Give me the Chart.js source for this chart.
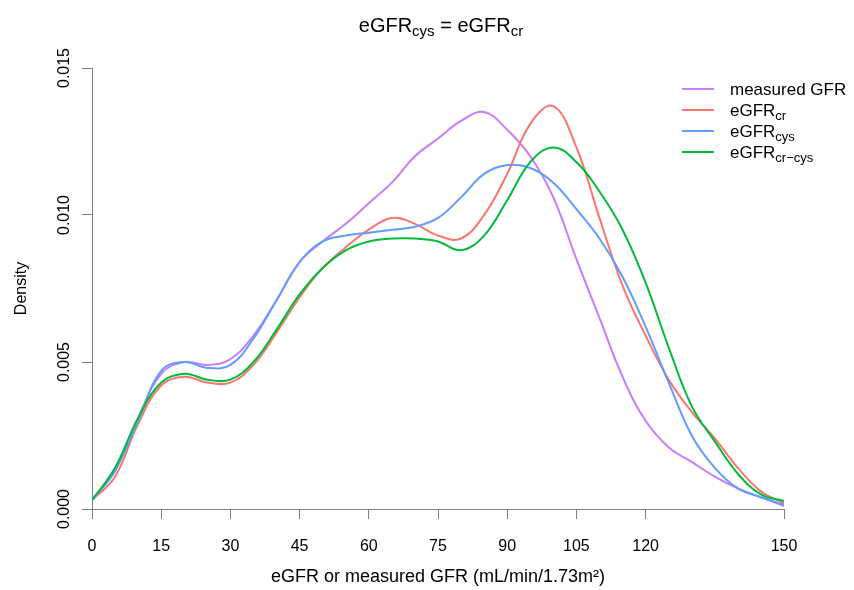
<!DOCTYPE html>
<html>
<head>
<meta charset="utf-8">
<script src="https://cdn.jsdelivr.net/npm/chart.js@4.4.1/dist/chart.umd.min.js"></script>
<style>
  html, body { margin: 0; padding: 0; background: #fff; }
  #wrap { width: 854px; height: 590px; }
</style>
</head>
<body>
<div id="wrap"><canvas id="DensityChart" width="854" height="590"></canvas></div>
<script>
// GFR grid (mL/min/1.73m2) and density values
const gfrValues = [0, 5, 10, 15, 20, 25, 30, 35, 40, 45, 50, 55, 60, 65, 70, 75,
                   80, 85, 90, 95, 100, 105, 110, 115, 120, 125, 130, 135, 140, 145, 150];
const measuredGFR = [0.0003, 0.0013, 0.0031, 0.0046, 0.0050, 0.0049, 0.0051, 0.0059, 0.0071, 0.0084, 0.0091,
                     0.0097, 0.0104, 0.0111, 0.0120, 0.0126, 0.0132, 0.0135, 0.0129, 0.0120, 0.0106,
                     0.0085, 0.0065, 0.0045, 0.0030, 0.0021, 0.0016, 0.0011, 0.0007, 0.0004, 0.0001];
const eGFRcr = [0.0003, 0.0011, 0.0029, 0.0042, 0.0045, 0.0043, 0.0043, 0.0049, 0.0060, 0.0072, 0.0082,
                0.0089, 0.0095, 0.0099, 0.0097, 0.0093, 0.0092, 0.0100, 0.0114, 0.0131, 0.0137,
                0.0123, 0.0099, 0.0076, 0.0059, 0.0044, 0.0033, 0.0024, 0.0014, 0.0006, 0.0002];
const eGFRcys = [0.0003, 0.0013, 0.0030, 0.0047, 0.0050, 0.0048, 0.0049, 0.0058, 0.0071, 0.0084, 0.0091,
                 0.0093, 0.0094, 0.0095, 0.0096, 0.0099, 0.0106, 0.0114, 0.0117, 0.0116, 0.0111,
                 0.0102, 0.0092, 0.0079, 0.0062, 0.0043, 0.0025, 0.0014, 0.0007, 0.0004, 0.00015];
const eGFRcrcys = [0.0003, 0.0014, 0.0031, 0.0043, 0.0046, 0.0044, 0.0044, 0.0050, 0.0061, 0.0073, 0.0082,
                   0.0088, 0.0091, 0.0092, 0.0092, 0.0091, 0.0088, 0.0093, 0.0105, 0.0118, 0.0123,
                   0.0118, 0.0108, 0.0095, 0.0077, 0.0055, 0.0035, 0.0023, 0.0012, 0.0005, 0.00027];

const xTicks = [0, 15, 30, 45, 60, 75, 90, 105, 120, 150];
const yTicks = [0, 0.005, 0.010, 0.015];
const yTickLabels = ['0.000', '0.005', '0.010', '0.015'];

const FONT = '"Liberation Sans", Arial, sans-serif';
const AXIS_GREY = '#7f7f7f';

const seriesInfo = [
    { name: 'measured GFR', sub: '', color: '#C77CFF', values: measuredGFR, order: 3 },
    { name: 'eGFR', sub: 'cr', color: '#F8766D', values: eGFRcr, order: 2 },
    { name: 'eGFR', sub: 'cys', color: '#619CFF', values: eGFRcys, order: 1 },
    { name: 'eGFR', sub: 'cr\u2212cys', color: '#00BA38', values: eGFRcrcys, order: 0 }
];

// draw text pieces, some of them as subscripts
function drawPieces(ctx, pieces, x, y, size, subSize, subDrop) {
    let cx = x;
    pieces.forEach(p => {
        ctx.font = (p[1] ? subSize : size) + 'px ' + FONT;
        ctx.fillText(p[0], cx, p[1] ? y + subDrop : y);
        cx += ctx.measureText(p[0]).width;
    });
}

function piecesWidth(ctx, pieces, size, subSize) {
    let w = 0;
    pieces.forEach(p => {
        ctx.font = (p[1] ? subSize : size) + 'px ' + FONT;
        w += ctx.measureText(p[0]).width;
    });
    return w;
}

const decorPlugin = {
    id: 'decor',
    afterDraw(chart) {
        const ctx = chart.ctx;
        const yScale = chart.scales.y;
        ctx.save();
        ctx.fillStyle = '#000';
        ctx.textBaseline = 'alphabetic';
        ctx.textAlign = 'left';

        // title
        const titlePieces = [['eGFR', false], ['cys', true], [' = eGFR', false], ['cr', true]];
        const tw = piecesWidth(ctx, titlePieces, 20, 15);
        drawPieces(ctx, titlePieces, 441 - tw / 2, 32, 20, 15, 4);

        // y tick labels, rotated like base R
        ctx.font = '16px ' + FONT;
        ctx.textAlign = 'center';
        ctx.textBaseline = 'middle';
        yTicks.forEach((v, i) => {
            ctx.save();
            ctx.translate(65, yScale.getPixelForValue(v));
            ctx.rotate(-Math.PI / 2);
            ctx.fillText(yTickLabels[i], 0, 0);
            ctx.restore();
        });

        // y axis title
        ctx.save();
        ctx.translate(22, (chart.chartArea.top + chart.chartArea.bottom) / 2);
        ctx.rotate(-Math.PI / 2);
        ctx.fillText('Density', 0, 0);
        ctx.restore();

        // legend
        ctx.textAlign = 'left';
        ctx.textBaseline = 'alphabetic';
        seriesInfo.forEach((s, i) => {
            const ry = 89 + i * 21;
            ctx.strokeStyle = s.color;
            ctx.lineWidth = 2;
            ctx.beginPath();
            ctx.moveTo(682, ry);
            ctx.lineTo(714, ry);
            ctx.stroke();
            const pieces = [[s.name, false]];
            if (s.sub) pieces.push([s.sub, true]);
            drawPieces(ctx, pieces, 730, ry + 6, 17, 13, 4);
        });
        ctx.restore();
    }
};

const context = document.getElementById('DensityChart').getContext('2d');
new Chart(context, {
    type: 'line',
    data: {
        datasets: seriesInfo.map(s => ({
            label: s.name + s.sub,
            data: gfrValues.map((x, i) => ({ x: x, y: s.values[i] })),
            borderColor: s.color,
            borderWidth: 2,
            pointRadius: 0,
            fill: false,
            tension: 0.4,
            order: s.order
        }))
    },
    options: {
        responsive: false,
        animation: false,
        layout: { padding: { top: 68, right: 70, bottom: 0, left: 0 } },
        plugins: {
            legend: { display: false },
            title: { display: false },
            tooltip: { enabled: false }
        },
        scales: {
            x: {
                type: 'linear',
                min: 0,
                max: 150,
                afterBuildTicks: scale => { scale.ticks = xTicks.map(v => ({ value: v })); },
                afterFit: scale => { scale.height = 81; },
                grid: { drawOnChartArea: false, drawTicks: true, tickLength: 10, color: AXIS_GREY },
                border: { color: AXIS_GREY, width: 1 },
                ticks: {
                    color: '#000',
                    font: { size: 16, family: FONT },
                    padding: 18,
                    maxRotation: 0,
                    autoSkip: false,
                    callback: v => String(v)
                },
                title: {
                    display: true,
                    text: 'eGFR or measured GFR (mL/min/1.73m\u00B2)',
                    color: '#000',
                    font: { size: 18, family: FONT },
                    padding: { top: 0, bottom: 2 }
                }
            },
            y: {
                type: 'linear',
                min: 0,
                max: 0.015,
                afterBuildTicks: scale => { scale.ticks = yTicks.map(v => ({ value: v })); },
                afterFit: scale => { scale.width = 92; },
                grid: { drawOnChartArea: false, drawTicks: true, tickLength: 10, color: AXIS_GREY },
                border: { color: AXIS_GREY, width: 1 },
                ticks: { display: false }
            }
        }
    },
    plugins: [decorPlugin]
});
</script>
</body>
</html>
